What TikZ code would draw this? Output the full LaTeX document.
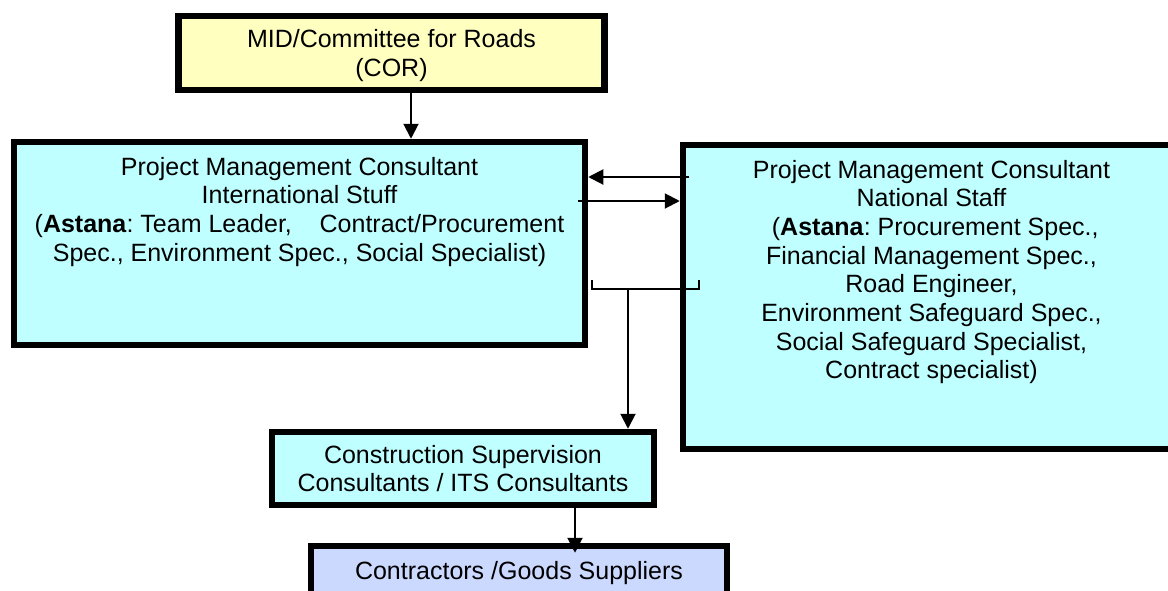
\documentclass[tikz,border=0pt]{standalone}
\usepackage{fontspec}
\setmainfont{Liberation Sans}
\frenchspacing
\usetikzlibrary{calc}
\usetikzlibrary{arrows.meta}
\usetikzlibrary{positioning}

\definecolor{corfill}{RGB}{255,255,192}
\definecolor{pmcfill}{RGB}{192,255,255}
\definecolor{supfill}{RGB}{204,217,255}

\begin{document}
\begin{tikzpicture}[x=1pt, y=1pt,
    font={\fontsize{25}{28.7}\selectfont},
    orgbox/.style={draw=black, line width=6.5pt, inner sep=0pt, align=center},
    orgtext/.style={inner sep=0pt, align=center},
    arr/.style={-{Triangle[length=15pt, width=15pt]}, line width=2pt}]
\useasboundingbox (0,0) rectangle (1168,-590);

\node[orgbox, fill=corfill, minimum width=426pt, minimum height=74pt, text depth=0pt] (cor) at (391.5,-53) {MID/Committee for Roads\\(COR)};
\node[orgbox, fill=pmcfill, minimum width=571pt, minimum height=203pt] (pmi) at (299.5,-243.5) {};
\node[orgtext, below=18pt of pmi.north] (pmiText) {Project Management Consultant\\International Stuff\\(\textbf{Astana}: Team Leader,\ \ \ \ Contract/Procurement\\Spec., Environment Spec., Social Specialist)};
\node[orgbox, fill=pmcfill, minimum width=497pt, minimum height=304pt] (pmn) at (931.5,-297) {};
\node[orgtext, below=18pt of pmn.north] (pmnText) {Project Management Consultant\\National Staff\\\hspace*{0.3em}(\textbf{Astana}: Procurement Spec.,\\Financial Management Spec.,\\Road Engineer,\\Environment Safeguard Spec.,\\Social Safeguard Specialist,\\Contract specialist)};
\node[orgbox, fill=pmcfill, minimum width=382pt, minimum height=73pt, text depth=0pt] (csc) at (463,-468.5) {Construction Supervision\\Consultants / ITS Consultants};
\node[orgbox, fill=supfill, minimum width=416pt, minimum height=55pt] (cgs) at (519,-573.5) {Contractors /Goods Suppliers};

\coordinate (split) at (628,-289);

\draw[arr] ([xshift=19.5pt]cor.south) -- ([xshift=19.5pt]cor.south |- pmi.north);
\draw[arr] ([xshift=9pt]pmn.west |- 0,-177) -- (pmi.east |- 0,-177);
\draw[arr] ([xshift=-10pt]pmi.east |- 0,-201) -- (pmn.west |- 0,-201);
\draw[line width=2pt] ([xshift=4pt,yshift=9pt]pmi.east |- split) -- ([xshift=4pt]pmi.east |- split) -- ([xshift=19pt]pmn.west |- split) -- ++(0,9);
\draw[arr] (split) -- (split |- csc.north);
\draw[arr] ([xshift=112pt]csc.south) -- ([xshift=112pt,yshift=-10pt]csc.south |- cgs.north);

\end{tikzpicture}
\end{document}
